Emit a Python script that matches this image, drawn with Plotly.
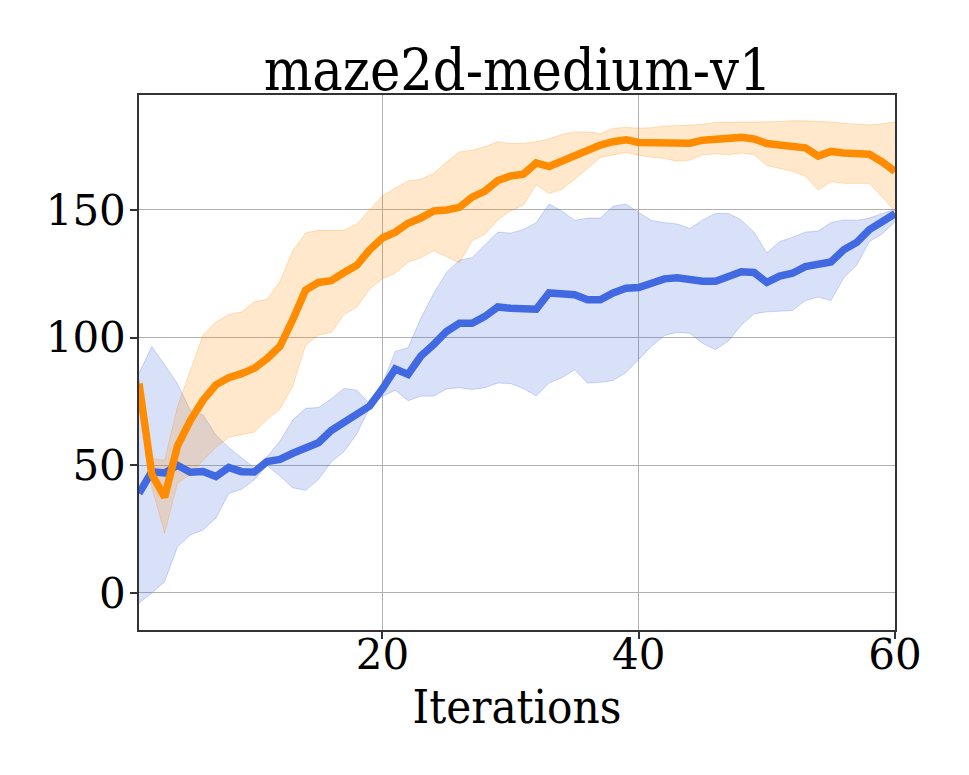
import plotly.graph_objects as go

iterations = list(range(1, 61))

orange_mean = [82, 46.5, 37.5, 57.5, 67.5, 75.5, 81.5, 84.3, 85.9, 88,
               91.8, 96.6, 107, 118.6, 121.6, 122.3, 125.5, 128.3, 134.4, 139,
               141.3, 144.8, 146.8, 149.6, 150, 151, 155, 157.4, 161.5, 163.3,
               164, 168.4, 167, 169.1, 171.6, 173.6, 175.4, 176.7, 177.5, 176.4,
               176.4, 176.1, 175.7, 176.1, 177.3, 177.8, 177.8, 178.4, 177.8, 176,
               175.4, 175, 174.3, 171.1, 172.9, 172.3, 172, 171.8, 168.8, 165.1]
orange_upper = [84, 52.5, 52, 73, 87, 101, 106, 109, 110, 114,
                115, 122, 134, 141, 142, 142, 142, 144.5, 150, 155.5,
                158.5, 161.3, 162, 164.3, 168.8, 172.7, 173.4, 174.7, 176.7, 176,
                176, 176.7, 177.8, 179.5, 180.5, 180.5, 179.8, 181.9, 182.3, 182,
                182.2, 182.8, 183, 183.3, 183.5, 184.2, 184.4, 184.4, 184.4, 184.4,
                184.6, 184.9, 184.9, 184.6, 184.4, 183.9, 183.5, 183.3, 183.7, 184.4]
orange_lower = [80, 41.5, 23.4, 43, 46.5, 52, 57, 61, 62, 63,
                68, 72, 81, 97, 101, 102, 109, 112, 119, 123,
                125.2, 129.6, 131.3, 134, 131.7, 129.3, 137.9, 140.6, 146.1, 149.6,
                151.9, 159.9, 156.4, 158.1, 162, 166.1, 170.5, 171.6, 172.5, 171.4,
                170.6, 170.2, 169.1, 169.5, 171.6, 172, 171.6, 172.3, 171.6, 167.4,
                166.3, 165.1, 163.3, 157.8, 161, 160.4, 160.4, 160.4, 155.1, 149.6]

blue_mean = [39, 47.5, 47, 50, 47.3, 47.6, 45.6, 49.2, 47.5, 47.4,
             51.5, 52.3, 54.7, 56.5, 58.8, 63.6, 67, 70.2, 73.2, 80,
             87.7, 85.6, 92.8, 97.3, 102.4, 105.6, 105.6, 108.3, 112, 111.5,
             111.1, 111.1, 117.5, 117.3, 116.8, 114.8, 114.8, 117.5, 119.3, 119.6,
             121.1, 123, 123.4, 122.5, 122.1, 122.1, 123.9, 125.8, 125.5, 121.6,
             124.1, 125.2, 127.8, 128.9, 129.6, 134.4, 137.2, 142.3, 145.4, 148.5]
blue_upper = [86, 96.5, 89.3, 82, 71.5, 69.7, 61.8, 57, 53, 49,
              53.3, 59.5, 67.7, 72.3, 72.6, 76, 80.1, 79.4, 74, 82,
              94.6, 96, 107.6, 117.3, 125.5, 130.3, 131.3, 136.5, 141.3, 140.9,
              142.3, 145, 152.3, 149.6, 145.9, 146.8, 146.8, 151.4, 152.3, 149,
              145.9, 145, 144.5, 142.7, 146.1, 148.6, 148.6, 146.1, 141.3, 133.1,
              137.6, 139.3, 141.3, 141.7, 145, 146.1, 145.9, 146.8, 148.6, 150.3]
blue_lower = [-4, 0, 4.4, 18.1, 22.7, 24.7, 29.3, 39, 40.6, 44.3,
              49.9, 45.8, 41.2, 40.2, 44.4, 51.3, 55.4, 62.3, 72.6, 77,
              79.4, 75.3, 77.1, 77.1, 79.9, 80.4, 79.7, 80.4, 82.2, 82,
              80.1, 77.1, 82.2, 84.3, 87.4, 82.2, 82.5, 83.2, 86.3, 91.5,
              96.6, 100.8, 102.1, 101.7, 97.7, 95.3, 98.7, 104.9, 109.3, 110.1,
              110.4, 110.6, 114.5, 115.9, 114.5, 123.4, 128.3, 137.6, 140.6, 145.4]

x_ticks = [20, 40, 60]
y_ticks = [0, 50, 100, 150]

FONT = "DejaVu Serif"
FONT_C = "DejaVu Serif Condensed, DejaVu Serif"

fig = go.Figure()

def add_band(upper, lower, rgb):
    edge = "rgba(%s,0.25)" % rgb
    fig.add_trace(go.Scatter(x=iterations, y=upper, mode="lines",
                             line=dict(color=edge, width=1), showlegend=False,
                             hoverinfo="skip"))
    fig.add_trace(go.Scatter(x=iterations, y=lower, mode="lines",
                             line=dict(color=edge, width=1), fill="tonexty",
                             fillcolor="rgba(%s,0.2)" % rgb, showlegend=False,
                             hoverinfo="skip"))

add_band(blue_upper, blue_lower, "65,105,225")
add_band(orange_upper, orange_lower, "255,140,0")

fig.add_trace(go.Scatter(x=iterations, y=blue_mean, mode="lines",
                         line=dict(color="#4169e1", width=7.5), showlegend=False))
fig.add_trace(go.Scatter(x=iterations, y=orange_mean, mode="lines",
                         line=dict(color="#ff8c00", width=7.5), showlegend=False))

fig.update_layout(
    width=969, height=775,
    margin=dict(l=131, r=82, t=87, b=153),
    paper_bgcolor="white", plot_bgcolor="white",
    font=dict(family=FONT, size=42, color="black"),
    title=dict(text="maze2d-medium-v1", font=dict(family=FONT_C, size=57),
               x=0.526, xanchor="center", y=0.92, yanchor="middle",
               xref="container", yref="container"),
)
fig.update_xaxes(
    range=[1, 60], tickvals=x_ticks, ticks="outside", ticklen=7, tickwidth=1.5,
    tickcolor="#333", showline=True, linecolor="#333", linewidth=1.5, mirror=True,
    showgrid=True, gridcolor="#b0b0b0", gridwidth=1.2, zeroline=False,
    ticklabelstandoff=-20,
    title=dict(text="Iterations", standoff=4, font=dict(family=FONT_C, size=47)),
)
fig.update_yaxes(
    range=[-14.5, 195], tickvals=y_ticks, ticks="outside", ticklen=7, tickwidth=1.5,
    tickcolor="#333", showline=True, linecolor="#333", linewidth=1.5, mirror=True,
    showgrid=True, gridcolor="#b0b0b0", gridwidth=1.2, zeroline=False,
    ticklabelstandoff=-4,
)

fig.write_html("out.html")
